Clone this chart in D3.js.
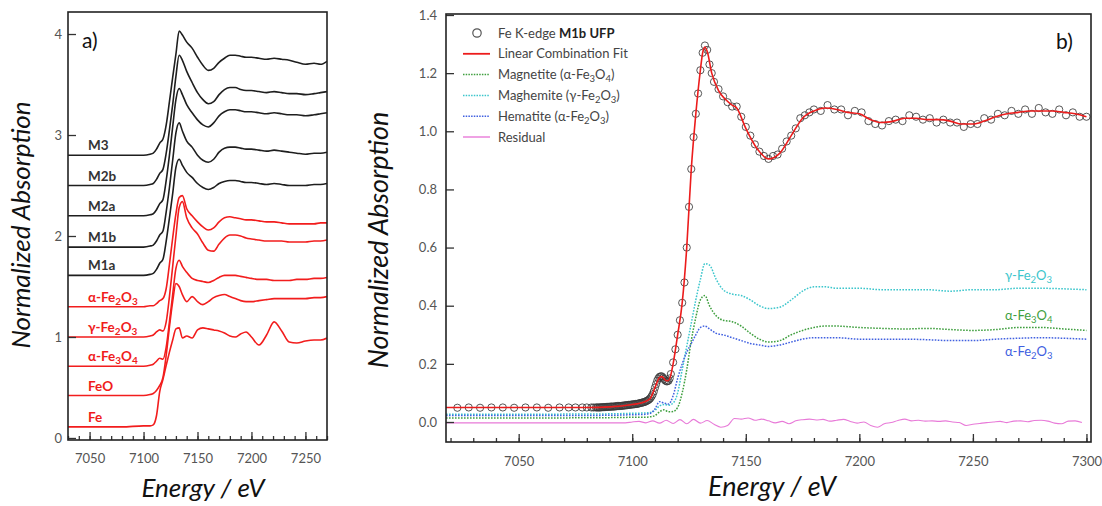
<!DOCTYPE html>
<html>
<head>
<meta charset="utf-8">
<script src="https://cdn.jsdelivr.net/npm/d3@7"></script>
<style>
  body { margin: 0; background: #fff; }
  svg { display: block; font-family: Lato, "Open Sans", sans-serif; }
</style>
</head>
<body>
<svg width="1102" height="506"></svg>
<script>
// ---------- panel a : stacked reference spectra ----------
const energyA = [7030, 7080, 7100, 7106, 7109, 7112, 7115, 7118, 7121, 7124, 7127, 7130, 7133, 7136, 7140,
  7145, 7150, 7155, 7160, 7165, 7170, 7175, 7180, 7185, 7190, 7195, 7200, 7207, 7214, 7221, 7228, 7235,
  7242, 7250, 7258, 7264, 7270]

const m3 = [2.80, 2.80, 2.80, 2.81, 2.82, 2.86, 2.92, 2.96, 3.10, 3.33, 3.57, 3.80, 4.03, 3.99, 3.92,
  3.86, 3.77, 3.69, 3.64, 3.66, 3.72, 3.76, 3.79, 3.79, 3.78, 3.77, 3.77, 3.76, 3.75, 3.76, 3.75, 3.74,
  3.72, 3.70, 3.71, 3.70, 3.73]
const m2b = [2.50, 2.50, 2.50, 2.51, 2.52, 2.56, 2.62, 2.66, 2.82, 3.05, 3.30, 3.58, 3.79, 3.74, 3.63,
  3.52, 3.42, 3.35, 3.31, 3.33, 3.40, 3.45, 3.47, 3.47, 3.45, 3.44, 3.44, 3.43, 3.42, 3.43, 3.42, 3.41,
  3.41, 3.40, 3.41, 3.42, 3.43]
const m2a = [2.20, 2.20, 2.20, 2.21, 2.22, 2.26, 2.32, 2.36, 2.55, 2.80, 3.08, 3.35, 3.46, 3.40, 3.30,
  3.22, 3.15, 3.10, 3.08, 3.12, 3.19, 3.23, 3.25, 3.25, 3.24, 3.23, 3.23, 3.22, 3.21, 3.22, 3.21, 3.20,
  3.20, 3.19, 3.20, 3.21, 3.22]
const m1b = [1.89, 1.89, 1.89, 1.90, 1.91, 1.95, 2.01, 2.05, 2.24, 2.48, 2.75, 3.02, 3.12, 3.04, 2.94,
  2.88, 2.80, 2.75, 2.73, 2.76, 2.83, 2.87, 2.88, 2.88, 2.87, 2.86, 2.86, 2.85, 2.84, 2.85, 2.84, 2.83,
  2.82, 2.81, 2.82, 2.82, 2.83]
const m1a = [1.61, 1.61, 1.61, 1.62, 1.63, 1.67, 1.73, 1.77, 1.95, 2.18, 2.42, 2.68, 2.76, 2.70, 2.63,
  2.58, 2.52, 2.48, 2.46, 2.48, 2.52, 2.54, 2.55, 2.55, 2.54, 2.53, 2.53, 2.52, 2.51, 2.52, 2.51, 2.50,
  2.50, 2.50, 2.51, 2.51, 2.52]
const hematiteA = [1.30, 1.30, 1.30, 1.31, 1.31, 1.33, 1.36, 1.38, 1.48, 1.72, 1.98, 2.22, 2.38, 2.40, 2.27,
  2.20, 2.14, 2.09, 2.06, 2.08, 2.14, 2.18, 2.19, 2.18, 2.17, 2.16, 2.16, 2.15, 2.14, 2.14, 2.13, 2.12,
  2.12, 2.12, 2.12, 2.13, 2.13]
const maghemiteA = [1.00, 1.00, 1.00, 1.01, 1.02, 1.05, 1.07, 1.06, 1.15, 1.40, 1.70, 2.00, 2.28, 2.34, 2.18,
  2.08, 2.02, 1.93, 1.86, 1.85, 1.92, 1.98, 2.01, 2.01, 2.00, 1.98, 1.97, 1.96, 1.95, 1.95, 1.95, 1.94,
  1.94, 1.94, 1.95, 1.95, 1.96]
const magnetiteA = [0.71, 0.71, 0.71, 0.72, 0.73, 0.76, 0.79, 0.78, 0.90, 1.15, 1.42, 1.68, 1.76, 1.70, 1.64,
  1.58, 1.56, 1.55, 1.54, 1.56, 1.59, 1.61, 1.61, 1.61, 1.60, 1.59, 1.58, 1.57, 1.57, 1.56, 1.56, 1.56,
  1.57, 1.57, 1.58, 1.58, 1.59]
const feoA = [0.42, 0.42, 0.42, 0.43, 0.44, 0.47, 0.52, 0.60, 0.82, 1.10, 1.35, 1.53, 1.50, 1.42, 1.35,
  1.40, 1.35, 1.32, 1.35, 1.39, 1.41, 1.42, 1.40, 1.38, 1.36, 1.35, 1.35, 1.36, 1.37, 1.38, 1.38, 1.38,
  1.38, 1.38, 1.39, 1.39, 1.40]
const feA = [0.11, 0.11, 0.12, 0.12, 0.13, 0.22, 0.46, 0.58, 0.72, 0.85, 0.97, 1.08, 1.09, 0.99, 1.01,
  0.99, 1.07, 1.09, 1.08, 1.07, 1.06, 1.04, 1.01, 1.00, 1.03, 1.05, 1.00, 0.92, 1.02, 1.15, 1.06, 0.95,
  0.94, 0.96, 0.97, 0.97, 0.99]

const namesA = ['M3', 'M2b', 'M2a', 'M1b', 'M1a', 'α-Fe_2O_3', 'γ-Fe_2O_3', 'α-Fe_3O_4', 'FeO', 'Fe']
const groupA = ['sample', 'sample', 'sample', 'sample', 'sample', 'ref', 'ref', 'ref', 'ref', 'ref']
const valuesA = [m3, m2b, m2a, m1b, m1a, hematiteA, maghemiteA, magnetiteA, feoA, feA]

const xTicksA = [7050, 7100, 7150, 7200, 7250]
const yTicksA = [0, 1, 2, 3, 4]

// ---------- panel b : linear combination fit of M1b UFP ----------
const m1bData = [[7023, 0.049], [7028, 0.05], [7033, 0.049], [7038, 0.05], [7043, 0.05], [7048, 0.049],
  [7053, 0.05], [7058, 0.05], [7063, 0.049], [7068, 0.05], [7072, 0.05], [7075, 0.05], [7078, 0.05],
  [7080, 0.05], [7082, 0.05], [7083, 0.05],
  [7084, 0.05], [7084.5, 0.05], [7085, 0.05], [7085.5, 0.05], [7086, 0.05], [7086.5, 0.051], [7087, 0.051],
  [7087.5, 0.051], [7088, 0.051], [7088.5, 0.052], [7089, 0.052], [7089.5, 0.052], [7090, 0.052],
  [7090.5, 0.053], [7091, 0.053], [7091.5, 0.053], [7092, 0.053], [7092.5, 0.054], [7093, 0.054],
  [7093.5, 0.055], [7094, 0.055], [7094.5, 0.055], [7095, 0.055], [7095.5, 0.056], [7096, 0.056],
  [7096.5, 0.057], [7097, 0.057], [7097.5, 0.058], [7098, 0.058], [7098.5, 0.059], [7099, 0.059],
  [7099.5, 0.06], [7100, 0.06], [7100.5, 0.061], [7101, 0.061], [7101.5, 0.062], [7102, 0.062],
  [7102.5, 0.063], [7103, 0.064], [7103.5, 0.065], [7104, 0.066], [7104.5, 0.067], [7105, 0.068],
  [7105.5, 0.069], [7106, 0.071], [7106.5, 0.073], [7107, 0.075], [7107.5, 0.078], [7108, 0.082],
  [7108.5, 0.088], [7109, 0.095], [7109.5, 0.105], [7110, 0.118], [7110.5, 0.13], [7111, 0.142],
  [7111.5, 0.15], [7112, 0.155], [7112.5, 0.157], [7113, 0.157], [7113.5, 0.153], [7114, 0.148],
  [7114.5, 0.143], [7115, 0.14], [7115.5, 0.14], [7116, 0.142], [7116.5, 0.15], [7117, 0.165],
  [7118, 0.205], [7119, 0.25], [7120, 0.30], [7121, 0.35], [7122, 0.41], [7123, 0.48], [7124, 0.60],
  [7125, 0.74], [7126, 0.87], [7127, 0.98], [7128, 1.06], [7129, 1.13], [7130, 1.21], [7131, 1.27],
  [7132, 1.295], [7133, 1.28], [7134, 1.23], [7135, 1.20], [7136, 1.17], [7138, 1.145], [7140, 1.12],
  [7142, 1.10], [7144, 1.085], [7146, 1.085], [7148, 1.05], [7150, 1.015], [7152, 0.985], [7154, 0.955],
  [7156, 0.93], [7158, 0.915], [7160, 0.905], [7162, 0.915], [7164, 0.92], [7166, 0.94], [7168, 0.965],
  [7170, 0.985], [7172, 1.01], [7174, 1.045], [7176, 1.055], [7178, 1.065], [7180, 1.075], [7183, 1.07],
  [7186, 1.09], [7189, 1.075], [7192, 1.075], [7195, 1.055], [7198, 1.07],
  [7201, 1.065], [7204, 1.035], [7207, 1.025], [7210, 1.02], [7213, 1.035], [7216, 1.04], [7219, 1.035],
  [7222, 1.055], [7225, 1.05], [7228, 1.04], [7231, 1.045], [7234, 1.03], [7237, 1.04], [7240, 1.03],
  [7243, 1.03], [7246, 1.015], [7249, 1.025], [7252, 1.025], [7255, 1.045], [7258, 1.04], [7261, 1.06],
  [7264, 1.055], [7267, 1.07], [7270, 1.06], [7273, 1.075], [7276, 1.06], [7279, 1.08], [7282, 1.065],
  [7285, 1.06], [7288, 1.075], [7291, 1.055], [7294, 1.065], [7297, 1.05], [7300, 1.05]]

const lcfFit = [[7018, 0.05], [7080, 0.05], [7090, 0.052], [7100, 0.06], [7105, 0.068], [7108, 0.082],
  [7110, 0.118], [7112, 0.153], [7113, 0.156], [7114, 0.149], [7115, 0.142], [7116, 0.143], [7117, 0.162],
  [7118, 0.20], [7120, 0.30], [7122, 0.41], [7124, 0.60], [7126, 0.87], [7128, 1.06], [7130, 1.21],
  [7131, 1.27], [7132, 1.29], [7133, 1.275], [7135, 1.20], [7138, 1.14], [7141, 1.11], [7144, 1.09],
  [7146, 1.08], [7150, 1.01], [7155, 0.94], [7160, 0.905], [7165, 0.925], [7170, 0.985], [7175, 1.045],
  [7180, 1.07], [7185, 1.08], [7190, 1.075], [7195, 1.065], [7200, 1.06], [7205, 1.04], [7210, 1.03],
  [7215, 1.035], [7220, 1.045], [7225, 1.045], [7230, 1.04], [7235, 1.04], [7240, 1.035], [7245, 1.025],
  [7250, 1.025], [7255, 1.035], [7260, 1.05], [7265, 1.06], [7270, 1.065], [7275, 1.07], [7280, 1.07],
  [7285, 1.07], [7290, 1.065], [7295, 1.06], [7300, 1.05]]

const energyRef = [7018, 7060, 7090, 7100, 7105, 7108, 7110, 7112, 7114, 7116, 7118, 7120, 7122, 7124, 7126,
  7128, 7130, 7132, 7134, 7137, 7140, 7144, 7148, 7152, 7156, 7160, 7165, 7170, 7175, 7180, 7185, 7190,
  7200, 7210, 7220, 7230, 7240, 7250, 7260, 7270, 7280, 7290, 7300]
const magnetiteB = [0.014, 0.014, 0.015, 0.016, 0.016, 0.018, 0.022, 0.035, 0.042, 0.035, 0.036, 0.05, 0.10,
  0.18, 0.28, 0.36, 0.42, 0.435, 0.40, 0.365, 0.35, 0.345, 0.33, 0.305, 0.285, 0.275, 0.28, 0.30, 0.315,
  0.325, 0.33, 0.33, 0.325, 0.322, 0.32, 0.322, 0.318, 0.315, 0.318, 0.325, 0.325, 0.32, 0.315]
const maghemiteB = [0.027, 0.027, 0.028, 0.03, 0.031, 0.033, 0.04, 0.055, 0.06, 0.058, 0.065, 0.10, 0.18,
  0.26, 0.34, 0.42, 0.49, 0.545, 0.54, 0.49, 0.455, 0.44, 0.435, 0.42, 0.40, 0.39, 0.395, 0.42, 0.45,
  0.465, 0.465, 0.46, 0.46, 0.455, 0.455, 0.455, 0.45, 0.455, 0.455, 0.46, 0.46, 0.458, 0.455]
const hematiteB = [0.022, 0.022, 0.023, 0.025, 0.026, 0.03, 0.045, 0.07, 0.065, 0.062, 0.09, 0.15, 0.20,
  0.24, 0.27, 0.30, 0.325, 0.33, 0.32, 0.305, 0.30, 0.29, 0.28, 0.27, 0.265, 0.26, 0.265, 0.275, 0.285,
  0.29, 0.29, 0.29, 0.285, 0.285, 0.285, 0.283, 0.28, 0.28, 0.285, 0.288, 0.29, 0.288, 0.285]

const residual = [[7018, -0.003], [7097, -0.003], [7100, 0], [7103, 0.002], [7106, -0.003], [7109, 0.004],
  [7112, -0.004], [7115, 0.006], [7118, -0.005], [7121, 0.008], [7124, -0.006], [7127, 0.009], [7130, -0.004],
  [7133, 0.005], [7136, -0.008], [7139, -0.018], [7142, -0.012], [7145, 0.012], [7148, 0.01], [7151, 0.014],
  [7154, 0.006], [7157, 0.01], [7160, 0.004], [7163, -0.003], [7166, 0.002], [7169, -0.006], [7172, 0.004],
  [7175, 0.008], [7178, 0.01], [7181, 0.007], [7184, 0.009], [7187, 0.003], [7190, 0.006], [7193, 0.009],
  [7196, 0.002], [7199, -0.004], [7202, 0], [7205, -0.012], [7208, -0.018], [7211, -0.006], [7214, -0.002],
  [7217, 0.005], [7220, 0.01], [7223, 0.004], [7226, 0.006], [7229, 0.003], [7232, 0.004], [7235, 0.002],
  [7238, 0.004], [7241, 0], [7244, -0.002], [7247, -0.012], [7250, -0.008], [7253, -0.005], [7256, -0.002],
  [7259, 0], [7262, 0.002], [7265, -0.002], [7268, 0.003], [7271, 0.004], [7274, 0.001], [7277, 0.005],
  [7280, 0.006], [7283, 0.003], [7286, -0.004], [7289, -0.006], [7292, 0.003], [7295, 0.004], [7298, -0.002]]

const xTicksB = [7050, 7100, 7150, 7200, 7250, 7300]
const yTicksB = [0, 0.2, 0.4, 0.6, 0.8, 1.0, 1.2, 1.4]
const legendB = ['Fe K-edge ', 'Linear Combination Fit', 'Magnetite (α-Fe_3O_4)', 'Maghemite (γ-Fe_2O_3)',
  'Hematite (α-Fe_2O_3)', 'Residual']

// ---------- helpers ----------
const svg = d3.select('svg')

// writes "Fe_2O_3" with real subscripts
function rich(text, str, subSize) {
  let down = false
  str.split(/_(\d)/).forEach((p, i) => {
    if (!p) return
    if (i % 2) {
      text.append('tspan').attr('dy', down ? 0 : 3).attr('font-size', subSize).text(p)
      down = true
    } else {
      text.append('tspan').attr('dy', down ? -3 : 0).text(p)
      down = false
    }
  })
}

function frameAxes(g, x, y, xt, yt, yfmt, xPad, yPad) {
  const [x0, x1] = x.range()
  const [y0, y1] = y.range()
  const minor = d3.range(Math.ceil(x.domain()[0] / 10) * 10, x.domain()[1] + 0.1, 10)
  g.append('g').attr('transform', `translate(0,${y0})`)
    .call(d3.axisBottom(x).tickValues(minor).tickSize(-4).tickFormat(''))
    .call(a => a.select('.domain').remove())
  g.append('g').attr('transform', `translate(0,${y0})`)
    .call(d3.axisBottom(x).tickValues(xt).tickSize(-8).tickPadding(xPad).tickFormat(d3.format('d')))
    .call(a => a.select('.domain').remove())
  g.append('g').attr('transform', `translate(${x0},0)`)
    .call(d3.axisLeft(y).tickValues(yt).tickSize(-8).tickPadding(yPad).tickFormat(yfmt))
    .call(a => a.select('.domain').remove())
  g.selectAll('.tick line').attr('stroke', '#333').attr('stroke-width', 1.3)
  g.selectAll('.tick text').attr('fill', '#555').attr('font-size', 13).attr('font-family', 'Lato, sans-serif')
  g.append('rect').attr('x', x0).attr('y', y1).attr('width', x1 - x0).attr('height', y0 - y1)
    .attr('fill', 'none').attr('stroke', '#222').attr('stroke-width', 1.6)
}

function titles(cx, cy, bx, by, size) {
  svg.append('text').attr('transform', `translate(${cx},${cy}) rotate(-90)`).attr('text-anchor', 'middle')
    .attr('font-size', size).attr('font-style', 'italic').attr('fill', '#111').text('Normalized Absorption')
  svg.append('text').attr('x', bx).attr('y', by).attr('text-anchor', 'middle')
    .attr('font-size', size).attr('font-style', 'italic').attr('fill', '#111').text('Energy / eV')
}

// ---------- draw panel a ----------
const xA = d3.scaleLinear().domain([7030, 7270]).range([68, 327])
const yA = d3.scaleLinear().domain([-0.02, 4.218]).range([440, 12])
const gA = svg.append('g')
svg.append('clipPath').attr('id', 'clipA').append('rect').attr('x', 68).attr('y', 12).attr('width', 259).attr('height', 428)

const specA = namesA.map((n, i) => ({ name: n, group: groupA[i], values: valuesA[i] }))
const lineA = d3.line().x((d, i) => xA(energyA[i])).y(d => yA(d)).curve(d3.curveMonotoneX)

gA.append('g').attr('clip-path', 'url(#clipA)')
  .selectAll('path').data(specA.slice().reverse()).join('path')
  .attr('d', d => lineA(d.values))
  .attr('fill', 'none')
  .attr('stroke', d => d.group === 'sample' ? '#1e1e1e' : '#f21d1d')
  .attr('stroke-width', 1.6)
  .attr('stroke-linejoin', 'round')

gA.selectAll('text.lab').data(specA).join('text').attr('class', 'lab')
  .attr('x', 88).attr('y', d => yA(d.values[0]) - 5)
  .attr('font-size', 13.5).attr('font-weight', 700)
  .attr('fill', d => d.group === 'sample' ? '#333' : '#f01c1c')
  .each(function (d) { rich(d3.select(this), d.name, 10) })

frameAxes(gA, xA, yA, xTicksA, yTicksA, d3.format('d'), 14, 6)
svg.append('text').attr('x', 82).attr('y', 48).attr('font-size', 21).attr('fill', '#111').text('a)')
titles(30, 225, 203, 497, 26)

// ---------- draw panel b ----------
const xB = d3.scaleLinear().domain([7018, 7302]).range([446, 1091])
const yB = d3.scaleLinear().domain([-0.0688, 1.4034]).range([442, 14])
const gB = svg.append('g')
svg.append('clipPath').attr('id', 'clipB').append('rect').attr('x', 446).attr('y', 14).attr('width', 645).attr('height', 428)
const plotB = gB.append('g').attr('clip-path', 'url(#clipB)')

const lineB = d3.line().x(d => xB(d[0])).y(d => yB(d[1])).curve(d3.curveMonotoneX)
const refs = [
  { name: 'α-Fe_3O_4', values: magnetiteB, color: '#3f9f3f' },
  { name: 'γ-Fe_2O_3', values: maghemiteB, color: '#3cc6cc' },
  { name: 'α-Fe_2O_3', values: hematiteB, color: '#4060e0' }
]
refs.forEach(r => { r.pts = energyRef.map((e, i) => [e, r.values[i]]) })

plotB.selectAll('path.ref').data(refs).join('path').attr('class', 'ref')
  .attr('d', d => lineB(d.pts)).attr('fill', 'none').attr('stroke', d => d.color)
  .attr('stroke-width', 1.5).attr('stroke-dasharray', '1.6,1.4')

plotB.append('path').attr('d', lineB(residual)).attr('fill', 'none')
  .attr('stroke', '#e87ad8').attr('stroke-width', 1.1)

plotB.selectAll('circle.dat').data(m1bData).join('circle').attr('class', 'dat')
  .attr('cx', d => xB(d[0])).attr('cy', d => yB(d[1])).attr('r', 3.6)
  .attr('fill', 'none').attr('stroke', '#3a3a3a').attr('stroke-width', 1).attr('stroke-opacity', 0.85)

plotB.append('path').attr('d', lineB(lcfFit)).attr('fill', 'none')
  .attr('stroke', '#ec1c1c').attr('stroke-width', 1.6)

// labels at the right end of the reference curves
const refLabelDy = [-10, -10, 17]
refs.forEach((r, i) => {
  const t = gB.append('text').attr('x', 1005).attr('y', yB(r.values[r.values.length - 1]) + refLabelDy[i])
    .attr('font-size', 13).attr('fill', r.color)
  rich(t, r.name, 9.5)
})

frameAxes(gB, xB, yB, xTicksB, yTicksB, d3.format('.1f'), 15, 9)

// legend
const legY = d3.range(6).map(i => 33 + i * 20.8)
const leg = gB.append('g')
leg.append('circle').attr('cx', 477).attr('cy', legY[0]).attr('r', 4.2)
  .attr('fill', 'none').attr('stroke', '#555').attr('stroke-width', 1.2)
const legStyles = [null,
  { c: '#ec1c1c', dash: null, w: 1.8 },
  { c: '#3f9f3f', dash: '1.5,1.2', w: 1.5 },
  { c: '#3cc6cc', dash: '1.5,1.2', w: 1.5 },
  { c: '#4060e0', dash: '1.5,1.2', w: 1.5 },
  { c: '#e87ad8', dash: null, w: 1.4 }]
legendB.forEach((s, i) => {
  const st = legStyles[i]
  if (st) {
    leg.append('line').attr('x1', 463).attr('x2', 490).attr('y1', legY[i]).attr('y2', legY[i])
      .attr('stroke', st.c).attr('stroke-width', st.w).attr('stroke-dasharray', st.dash)
  }
  const t = leg.append('text').attr('x', 498).attr('y', legY[i] + 4.5).attr('font-size', 13).attr('fill', '#444')
  rich(t, s, 9.5)
  if (i === 0) t.append('tspan').attr('font-weight', 700).attr('fill', '#222').text('M1b UFP')
})

svg.append('text').attr('x', 1056).attr('y', 49).attr('font-size', 21).attr('fill', '#111').text('b)')
titles(388, 240, 772, 496, 27)
</script>
</body>
</html>
